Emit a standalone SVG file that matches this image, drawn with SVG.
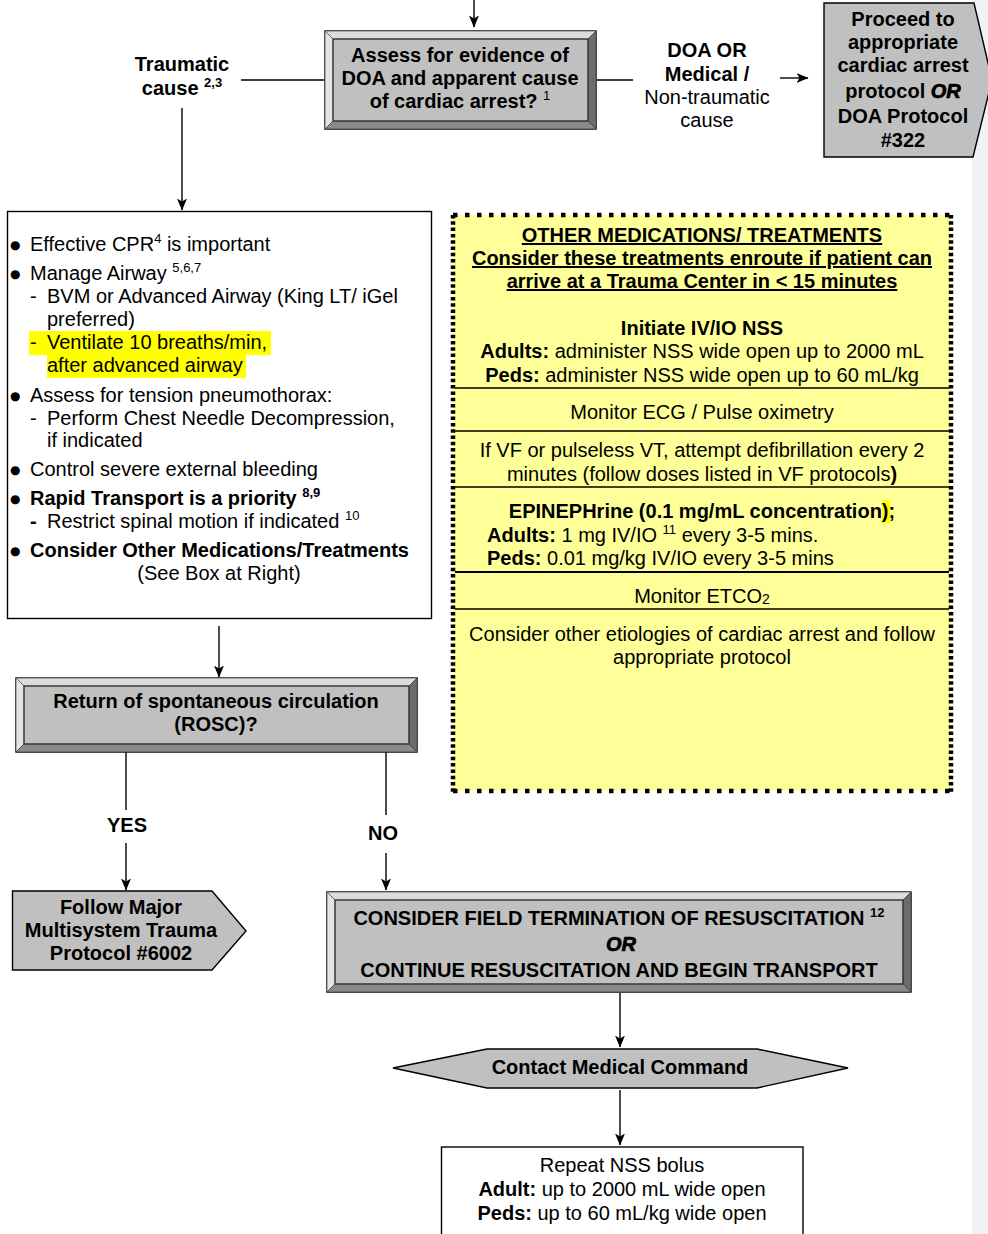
<svg xmlns="http://www.w3.org/2000/svg" width="988" height="1234" viewBox="0 0 988 1234">
<style>
  .t{font-family:"Liberation Sans",Arial,Helvetica,sans-serif;font-size:20px;fill:#000}
  .b{font-weight:bold}
  .c{text-anchor:middle}
  .sup{font-size:13px}
  .bul{font-family:"DejaVu Sans",sans-serif;font-size:12px;fill:#000}
  .or{font-weight:bold;font-style:italic;stroke:#000;stroke-width:0.7}
  .u{text-decoration:underline}
  .ln{stroke:#000;stroke-width:1.4;fill:none}
  .arr{stroke:#000;stroke-width:1.4;fill:none;marker-end:url(#ah)}
  .face{fill:#c0c0c0;stroke:#000;stroke-width:1.4}
  .bvT{fill:#dcdcdc;stroke:#555;stroke-width:0.8}
  .bvL{fill:#e4e4e4;stroke:#555;stroke-width:0.8}
  .bvB{fill:#8a8a8a;stroke:#444;stroke-width:0.8}
  .bvR{fill:#6c6c6c;stroke:#444;stroke-width:0.8}
  .inner{fill:none;stroke:#333;stroke-width:1.2}
  .sep{stroke:#000;stroke-width:1.3}
  .hl{fill:#ffff00}
</style>
<defs>
  <marker id="ah" markerUnits="userSpaceOnUse" markerWidth="12" markerHeight="12" viewBox="0 0 12 12" refX="11.5" refY="6" orient="auto">
    <path d="M0,1 L12,6 L0,11 L3,6 z" fill="#000"/>
  </marker>
</defs>

<rect x="972" y="0" width="16" height="1234" fill="#f2f2f2"/>

<g id="connectors">
  <line class="arr" x1="474" y1="0" x2="474" y2="27"/>
  <line class="ln" x1="241" y1="80" x2="324" y2="80"/>
  <line class="ln" x1="597" y1="80" x2="633" y2="80"/>
  <line class="arr" x1="780" y1="78" x2="808" y2="78"/>
  <line class="arr" x1="182" y1="108" x2="182" y2="210"/>
  <line class="arr" x1="219" y1="626" x2="219" y2="677"/>
  <line class="ln" x1="126" y1="752" x2="126" y2="810"/>
  <line class="arr" x1="126" y1="843" x2="126" y2="890"/>
  <line class="ln" x1="386" y1="752" x2="386" y2="815"/>
  <line class="arr" x1="386" y1="853" x2="386" y2="890"/>
  <line class="arr" x1="620" y1="993" x2="620" y2="1047"/>
  <line class="arr" x1="620" y1="1090" x2="620" y2="1145"/>
  <text class="t b c" x="182" y="71">Traumatic</text>
  <text class="t b c" x="182" y="95">cause <tspan class="sup" dy="-8">2,3</tspan></text>
  <text class="t b c" x="707" y="57">DOA OR</text>
  <text class="t b c" x="707" y="81">Medical /</text>
  <text class="t c" x="707" y="104">Non-traumatic</text>
  <text class="t c" x="707" y="127">cause</text>
  <text class="t b c" x="127" y="832">YES</text>
  <text class="t b c" x="383" y="840">NO</text>
</g>

<g id="node-assess">
  <rect class="face" x="325" y="31" width="271" height="98"/>
  <polygon class="bvT" points="325,31 596,31 588,39 333,39"/>
  <polygon class="bvL" points="325,31 333,39 333,121 325,129"/>
  <polygon class="bvB" points="325,129 333,121 588,121 596,129"/>
  <polygon class="bvR" points="596,31 596,129 588,121 588,39"/>
  <rect class="inner" x="333" y="39" width="255" height="82"/>
  <text class="t b c" x="460" y="62">Assess for evidence of</text>
  <text class="t b c" x="460" y="85">DOA and apparent cause</text>
  <text class="t b c" x="460" y="108">of cardiac arrest? <tspan class="sup" dy="-8" font-weight="normal">1</tspan></text>
</g>

<g id="node-proceed">
  <polygon class="face" points="824,3 974,3 992,80 973,157 824,157"/>
  <text class="t b c" x="903" y="26">Proceed to</text>
  <text class="t b c" x="903" y="49">appropriate</text>
  <text class="t b c" x="903" y="72">cardiac arrest</text>
  <text class="t b c" x="903" y="98">protocol <tspan class="or">OR</tspan></text>
  <text class="t b c" x="903" y="123">DOA Protocol</text>
  <text class="t b c" x="903" y="147">#322</text>
</g>

<g id="node-trauma-care">
  <rect x="7.5" y="211.5" width="424" height="407" fill="#fff" stroke="#000" stroke-width="1.4"/>
  <rect class="hl" x="29" y="331" width="242" height="24"/>
  <rect class="hl" x="47" y="355" width="199" height="23"/>
  <text class="bul" x="10" y="249">●</text>
  <text class="t" x="30" y="251">Effective CPR<tspan class="sup" dy="-8">4</tspan><tspan dy="8"> is important</tspan></text>
  <text class="bul" x="10" y="278">●</text>
  <text class="t" x="30" y="280">Manage Airway <tspan class="sup" dy="-8">5,6,7</tspan></text>
  <text class="t" x="30" y="303">-</text>
  <text class="t" x="47" y="303">BVM or Advanced Airway (King LT/ iGel</text>
  <text class="t" x="47" y="326">preferred)</text>
  <text class="t" x="30" y="349">-</text>
  <text class="t" x="47" y="349">Ventilate 10 breaths/min,</text>
  <text class="t" x="47" y="372">after advanced airway</text>
  <text class="bul" x="10" y="400">●</text>
  <text class="t" x="30" y="402">Assess for tension pneumothorax:</text>
  <text class="t" x="30" y="425">-</text>
  <text class="t" x="47" y="425">Perform Chest Needle Decompression,</text>
  <text class="t" x="47" y="447">if indicated</text>
  <text class="bul" x="10" y="474">●</text>
  <text class="t" x="30" y="476">Control severe external bleeding</text>
  <text class="bul" x="10" y="503">●</text>
  <text class="t b" x="30" y="505">Rapid Transport is a priority <tspan class="sup" dy="-8">8,9</tspan></text>
  <text class="t b" x="30" y="528">-</text>
  <text class="t" x="47" y="528">Restrict spinal motion if indicated <tspan class="sup" dy="-8">10</tspan></text>
  <text class="bul" x="10" y="555">●</text>
  <text class="t b" x="30" y="557">Consider Other Medications/Treatments</text>
  <text class="t c" x="219" y="580">(See Box at Right)</text>
</g>

<g id="node-other-meds">
  <rect x="453" y="215" width="498" height="576" fill="#ffff99"/>
  <line x1="453" y1="215" x2="953" y2="215" stroke="#000" stroke-width="4.5" stroke-dasharray="4.5 7.5"/>
  <line x1="453" y1="791" x2="953" y2="791" stroke="#000" stroke-width="4.5" stroke-dasharray="4.5 7.5"/>
  <line x1="453" y1="215" x2="453" y2="793" stroke="#000" stroke-width="4.5" stroke-dasharray="3.5 2.8"/>
  <line x1="951" y1="215" x2="951" y2="793" stroke="#000" stroke-width="4.5" stroke-dasharray="3.5 2.8"/>
  <line class="sep" x1="455" y1="388" x2="949" y2="388"/>
  <line class="sep" x1="455" y1="431" x2="949" y2="431"/>
  <line class="sep" x1="455" y1="487" x2="949" y2="487"/>
  <line x1="455" y1="572" x2="949" y2="572" stroke="#000" stroke-width="2"/>
  <line class="sep" x1="455" y1="609" x2="949" y2="609"/>
  <rect class="hl" x="882" y="500" width="8" height="23"/>
  <text class="t b c u" x="702" y="242">OTHER MEDICATIONS/ TREATMENTS</text>
  <text class="t b c u" x="702" y="265">Consider these treatments enroute if patient can</text>
  <text class="t b c u" x="702" y="288">arrive at a Trauma Center in &lt; 15 minutes</text>
  <text class="t b c" x="702" y="335">Initiate IV/IO NSS</text>
  <text class="t c" x="702" y="358"><tspan class="b">Adults:</tspan> administer NSS wide open up to 2000 mL</text>
  <text class="t c" x="702" y="382"><tspan class="b">Peds:</tspan> administer NSS wide open up to 60 mL/kg</text>
  <text class="t c" x="702" y="419">Monitor ECG / Pulse oximetry</text>
  <text class="t c" x="702" y="457">If VF or pulseless VT, attempt defibrillation every 2</text>
  <text class="t c" x="702" y="481">minutes (follow doses listed in VF protocols<tspan class="b">)</tspan></text>
  <text class="t b c" x="702" y="518">EPINEPHrine (0.1 mg/mL concentration);</text>
  <text class="t" x="487" y="542"><tspan class="b">Adults:</tspan> 1 mg IV/IO <tspan class="sup" dy="-8">11</tspan><tspan dy="8"> every 3-5 mins.</tspan></text>
  <text class="t" x="487" y="565"><tspan class="b">Peds:</tspan> 0.01 mg/kg IV/IO every 3-5 mins</text>
  <text class="t c" x="702" y="603">Monitor ETCO<tspan font-size="14" dy="1">2</tspan></text>
  <text class="t c" x="702" y="641">Consider other etiologies of cardiac arrest and follow</text>
  <text class="t c" x="702" y="664">appropriate protocol</text>
</g>

<g id="node-rosc">
  <rect class="face" x="16" y="678" width="401" height="74"/>
  <polygon class="bvT" points="16,678 417,678 409,686 24,686"/>
  <polygon class="bvL" points="16,678 24,686 24,744 16,752"/>
  <polygon class="bvB" points="16,752 24,744 409,744 417,752"/>
  <polygon class="bvR" points="417,678 417,752 409,744 409,686"/>
  <rect class="inner" x="24" y="686" width="385" height="58"/>
  <text class="t b c" x="216" y="708">Return of spontaneous circulation</text>
  <text class="t b c" x="216" y="731">(ROSC)?</text>
</g>

<g id="node-follow-major">
  <polygon class="face" points="12.5,891 212,891 246,931 212,970 12.5,970"/>
  <text class="t b c" x="121" y="914">Follow Major</text>
  <text class="t b c" x="121" y="937">Multisystem Trauma</text>
  <text class="t b c" x="121" y="960">Protocol #6002</text>
</g>

<g id="node-termination">
  <rect class="face" x="327" y="892" width="584" height="100"/>
  <polygon class="bvT" points="327,892 911,892 903,900 335,900"/>
  <polygon class="bvL" points="327,892 335,900 335,984 327,992"/>
  <polygon class="bvB" points="327,992 335,984 903,984 911,992"/>
  <polygon class="bvR" points="911,892 911,992 903,984 903,900"/>
  <rect class="inner" x="335" y="900" width="568" height="84"/>
  <text class="t b c" x="619" y="925">CONSIDER FIELD TERMINATION OF RESUSCITATION <tspan class="sup" dy="-8">12</tspan></text>
  <text class="t c or" x="621" y="951">OR</text>
  <text class="t b c" x="619" y="977">CONTINUE RESUSCITATION AND BEGIN TRANSPORT</text>
</g>

<g id="node-contact">
  <polygon class="face" points="393,1068 487,1049 757,1049 848,1068 757,1088 487,1088"/>
  <text class="t b c" x="620" y="1074">Contact Medical Command</text>
</g>

<g id="node-repeat">
  <rect x="441.5" y="1147" width="361.5" height="100" fill="#fff" stroke="#000" stroke-width="1.4"/>
  <text class="t c" x="622" y="1172">Repeat NSS bolus</text>
  <text class="t c" x="622" y="1196"><tspan class="b">Adult:</tspan> up to 2000 mL wide open</text>
  <text class="t c" x="622" y="1220"><tspan class="b">Peds:</tspan> up to 60 mL/kg wide open</text>
</g>
</svg>
